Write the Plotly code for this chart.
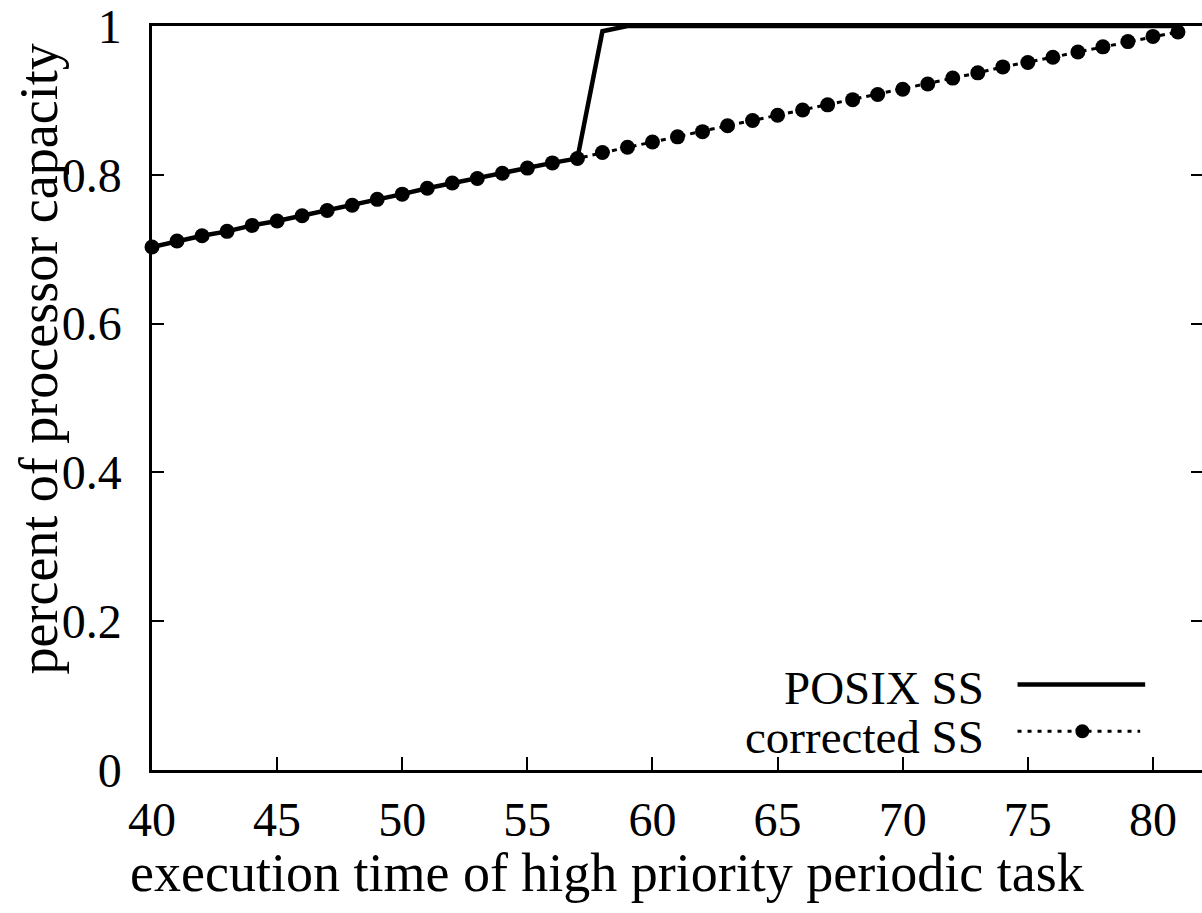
import plotly.graph_objects as go

# ---- data ----
x_vals = list(range(40, 82))
corrected_ss = [0.703, 0.711, 0.718, 0.724, 0.732, 0.738, 0.745, 0.752, 0.759, 0.767,
                0.774, 0.782, 0.789, 0.795, 0.802, 0.809, 0.816, 0.822, 0.830, 0.837,
                0.844, 0.851, 0.858, 0.866, 0.873, 0.880, 0.887, 0.894, 0.901, 0.908,
                0.915, 0.922, 0.930, 0.937, 0.945, 0.951, 0.958, 0.965, 0.972, 0.979,
                0.986, 0.992]
posix_ss = corrected_ss[:18] + [0.993] + [1.0] * 23

x_ticks = [40, 45, 50, 55, 60, 65, 70, 75, 80]
y_ticks = [0, 0.2, 0.4, 0.6, 0.8, 1.0]
y_tick_labels = ["0", "0.2", "0.4", "0.6", "0.8", "1"]

FONT = "Liberation Serif"
TICK_SIZE = 48
KEY_SIZE = 47
TITLE_SIZE = 54
W, H = 1206, 913          # slightly wider than the window: right border falls off-screen as in the reference
L, R, T, B = 152, 0, 22, 143
PW, PH = W - L - R, H - T - B


def px(xp):
    return (xp - L) / PW


def py(yp):
    return (H - B - yp) / PH


fig = go.Figure()
fig.add_trace(go.Scatter(x=x_vals, y=posix_ss, mode="lines", name="POSIX SS",
                         line=dict(color="black", width=4.5), showlegend=False))
fig.add_trace(go.Scatter(x=x_vals, y=corrected_ss, mode="lines+markers", name="corrected SS",
                         line=dict(color="black", width=3, dash="5px,5px"),
                         marker=dict(symbol="circle", size=15, color="black"),
                         showlegend=False, cliponaxis=False))

fig.update_layout(
    width=W, height=H,
    margin=dict(l=L, r=R, t=T, b=B, pad=0),
    paper_bgcolor="white", plot_bgcolor="white",
    font=dict(family=FONT, size=TICK_SIZE, color="black"),
    xaxis=dict(range=[40, 82], tickvals=x_ticks, ticks="inside", ticklen=13,
               tickwidth=2, tickcolor="black", showline=True, linecolor="black", linewidth=2.5,
               mirror=True, showgrid=False, zeroline=False, ticklabelstandoff=6,
               ticklabeloverflow="allow",
               tickfont=dict(family=FONT, size=TICK_SIZE, color="black")),
    yaxis=dict(range=[0, 1], tickvals=y_ticks, ticktext=y_tick_labels, ticks="inside",
               ticklen=12, tickwidth=2, tickcolor="black", showline=True, linecolor="black",
               linewidth=2.5, mirror="ticks", showgrid=False, zeroline=False,
               ticklabelstandoff=18, ticklabeloverflow="allow",
               tickfont=dict(family=FONT, size=TICK_SIZE, color="black")),
)

# axis titles
fig.add_annotation(text="execution time of high priority periodic task", xref="paper", yref="paper",
                   x=px(608), y=py(874), showarrow=False, xanchor="center", yanchor="middle",
                   font=dict(family=FONT, size=TITLE_SIZE, color="black"))
fig.add_annotation(text="percent of processor capacity", xref="paper", yref="paper",
                   x=px(39), y=py(357), showarrow=False, textangle=-90, xanchor="center",
                   yanchor="middle", font=dict(family=FONT, size=TITLE_SIZE, color="black"))

# legend (gnuplot style: text left, sample right)
fig.add_annotation(text="POSIX SS", xref="paper", yref="paper", x=px(988), y=py(688),
                   showarrow=False, xanchor="right", yanchor="middle",
                   font=dict(family=FONT, size=KEY_SIZE, color="black"))
fig.add_annotation(text="corrected SS", xref="paper", yref="paper", x=px(988), y=py(737),
                   showarrow=False, xanchor="right", yanchor="middle",
                   font=dict(family=FONT, size=KEY_SIZE, color="black"))
fig.add_shape(type="line", xref="paper", yref="paper", x0=px(1020), x1=px(1148),
              y0=py(684), y1=py(684), line=dict(color="black", width=4.5))
fig.add_shape(type="line", xref="paper", yref="paper", x0=px(1020), x1=px(1143),
              y0=py(731), y1=py(731), line=dict(color="black", width=3, dash="4px,6px"))
fig.add_shape(type="circle", xref="paper", yref="paper", x0=px(1078), x1=px(1092),
              y0=py(738), y1=py(724), fillcolor="black", line=dict(color="black", width=0))

fig.write_html(
    "out.html",
    config={"displayModeBar": False},
    post_script="document.body.style.margin='0';document.body.style.overflow='hidden';",
)
